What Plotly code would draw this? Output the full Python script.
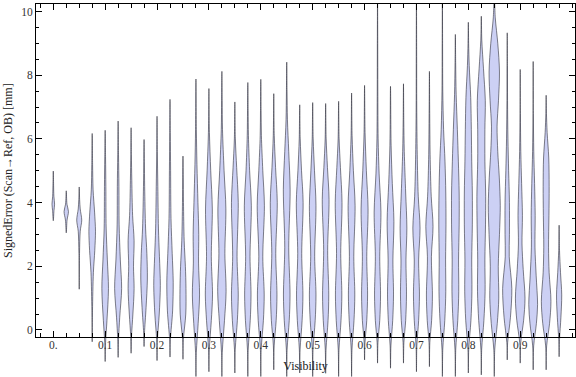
import plotly.graph_objects as go

# ---- data ----
positions = [0.0, 0.025, 0.05, 0.075, 0.1, 0.125, 0.15, 0.175, 0.2, 0.225,
             0.25, 0.275, 0.3, 0.325, 0.35, 0.375, 0.4, 0.425, 0.45, 0.475,
             0.5, 0.525, 0.55, 0.575, 0.6, 0.625, 0.65, 0.675, 0.7, 0.725,
             0.75, 0.775, 0.8, 0.825, 0.85, 0.875, 0.9, 0.925, 0.95, 0.975]

lows = [3.43, 3.05, 1.28, -0.37, -0.99, -0.86, -0.73, -0.52, -0.96, -0.85,
        -0.92, -1.46, -1.31, -1.46, -1.35, -1.46, -1.46, -1.25, -1.46, -1.35,
        -1.46, -1.36, -1.46, -1.46, -0.94, -1.04, -1.2, -1.04, -1.31, -1.15,
        -1.46, -1.46, -1.35, -1.41, -1.46, -0.94, -1.04, -1.25, -1.25, -0.84]

highs = [4.99, 4.37, 4.49, 6.17, 6.27, 6.56, 6.35, 5.98, 6.71, 7.24,
         5.46, 7.88, 7.58, 8.12, 7.16, 7.77, 7.87, 7.42, 8.41, 7.07,
         7.14, 7.11, 7.18, 7.44, 7.68, 10.6, 7.65, 7.73, 10.5, 8.12,
         10.5, 9.28, 9.66, 9.85, 10.6, 9.33, 8.18, 8.43, 7.37, 3.29]

# density profile knots: error level (mm) and relative density
density_y = [
    [3.75, 3.95, 4.2],
    [3.45, 3.72, 3.95],
    [2.4, 3.1, 3.45, 3.8, 4.1],
    [0.6, 1.8, 2.5, 3.1, 3.7, 4.4, 5.2],
    [-0.4, 0.3, 1.3, 2.2, 3.2, 4.5, 5.4],
    [-0.3, 0.4, 1.3, 2.2, 3.3, 4.5, 5.5],
    [-0.2, 0.5, 1.3, 2.0, 2.8, 3.6, 4.7, 5.5],
    [-0.1, 0.7, 1.6, 2.4, 3.2, 4.5, 5.3],
    [-0.3, 0.5, 1.4, 2.3, 3.2, 4.5, 5.6],
    [-0.3, 0.6, 1.5, 2.4, 3.5, 5.0, 6.2],
    [-0.3, 0.5, 1.3, 2.0, 2.8, 4.0, 4.8],
    [-0.7, 0.2, 1.1, 2.1, 3.0, 4.0, 5.2, 6.3],
    [-0.6, 0.3, 1.1, 2.3, 3.8, 5.0, 6.2],
    [-0.7, 0.3, 1.2, 2.4, 3.8, 5.0, 6.3, 7.2],
    [-0.6, 0.3, 1.1, 2.3, 4.0, 5.1, 6.0],
    [-0.6, 0.3, 1.1, 2.3, 3.9, 5.0, 6.1, 6.9],
    [-0.6, 0.3, 1.1, 2.3, 3.9, 5.0, 6.1, 6.9],
    [-0.5, 0.3, 1.1, 2.4, 4.0, 5.1, 6.1],
    [-0.6, 0.3, 1.1, 2.6, 4.4, 5.6, 6.6, 7.5],
    [-0.6, 0.3, 1.1, 2.4, 4.0, 5.0, 6.0],
    [-0.6, 0.3, 1.1, 2.3, 3.9, 5.0, 6.0],
    [-0.6, 0.3, 1.1, 2.5, 4.1, 5.1, 6.0],
    [-0.6, 0.3, 1.1, 2.4, 4.0, 5.1, 6.0],
    [-0.6, 0.3, 1.1, 2.3, 3.9, 5.0, 6.1],
    [-0.4, 0.3, 1.1, 2.3, 3.8, 5.0, 6.2],
    [-0.4, 0.3, 1.1, 2.3, 3.7, 4.9, 6.0, 7.5, 9.0],
    [-0.5, 0.3, 1.1, 2.2, 3.4, 4.6, 5.8],
    [-0.4, 0.3, 1.1, 2.2, 3.2, 4.3, 5.6, 6.6],
    [-0.5, 0.3, 1.1, 2.2, 3.2, 4.2, 5.5, 7.0, 8.8],
    [-0.4, 0.3, 1.1, 2.3, 3.25, 4.2, 5.5, 6.8],
    [-0.6, 0.3, 1.2, 2.2, 3.3, 4.3, 5.3, 6.3, 7.5, 9.0],
    [-0.6, 0.3, 1.2, 2.2, 3.3, 4.3, 5.3, 6.3, 7.4, 8.4],
    [-0.6, 0.3, 1.2, 2.2, 3.3, 4.3, 5.3, 6.3, 7.3, 8.3, 9.0],
    [-0.6, 0.3, 1.2, 2.2, 3.3, 4.2, 5.3, 6.3, 7.2, 8.2, 9.1],
    [-0.6, 0.2, 1.0, 2.0, 3.0, 3.9, 4.8, 5.6, 6.4, 7.2, 8.1, 9.0, 9.8],
    [-0.4, 0.4, 1.3, 2.3, 3.0, 4.0, 5.0, 6.0, 7.2, 8.3],
    [-0.4, 0.3, 1.0, 1.9, 2.7, 3.6, 4.6, 5.6, 6.8],
    [-0.5, 0.2, 0.8, 1.7, 2.6, 3.6, 4.6, 5.6, 6.8],
    [-0.5, 0.2, 0.9, 1.8, 2.6, 3.6, 4.5, 5.4, 6.2, 6.8],
    [-0.3, 0.4, 1.1, 1.8, 2.5],
]

density_w = [
    [0.7, 1.3, 0.6],
    [0.8, 2.2, 0.7],
    [0.3, 1.0, 2.5, 1.0, 0.4],
    [0.3, 1.2, 2.6, 3.3, 2.4, 0.9, 0.4],
    [0.4, 1.8, 3.3, 2.2, 1.0, 0.7, 0.4],
    [0.4, 1.6, 3.5, 2.2, 1.0, 0.8, 0.4],
    [0.4, 1.8, 3.0, 2.4, 3.0, 1.5, 0.7, 0.3],
    [0.4, 2.0, 3.3, 2.8, 1.5, 0.6, 0.3],
    [0.4, 2.2, 3.3, 2.4, 1.4, 0.8, 0.3],
    [0.4, 2.6, 3.2, 2.2, 1.0, 0.6, 0.3],
    [0.4, 2.8, 3.0, 2.4, 1.2, 0.5, 0.3],
    [0.4, 2.2, 3.6, 2.6, 2.8, 2.0, 1.0, 0.4],
    [0.4, 2.4, 3.6, 2.4, 3.4, 1.8, 0.5],
    [0.4, 2.6, 4.2, 3.0, 4.0, 2.2, 0.6, 0.3],
    [0.4, 2.5, 3.4, 2.2, 3.4, 1.8, 0.5],
    [0.4, 2.4, 3.2, 2.2, 3.5, 1.8, 0.6, 0.3],
    [0.4, 2.6, 3.4, 2.0, 3.6, 2.0, 0.6, 0.3],
    [0.4, 2.4, 3.2, 2.0, 3.5, 1.8, 0.5],
    [0.4, 2.5, 3.3, 2.0, 3.4, 2.0, 0.7, 0.3],
    [0.4, 2.4, 3.2, 2.0, 3.4, 1.8, 0.5],
    [0.4, 2.5, 3.3, 2.0, 3.3, 1.8, 0.5],
    [0.4, 2.4, 3.1, 2.0, 3.4, 1.8, 0.5],
    [0.4, 2.4, 3.2, 2.1, 3.4, 1.8, 0.5],
    [0.4, 2.4, 3.2, 2.2, 3.5, 1.8, 0.5],
    [0.4, 2.2, 3.0, 2.2, 3.5, 1.8, 0.5],
    [0.4, 2.2, 3.0, 2.2, 3.4, 1.6, 0.6, 0.3, 0.2],
    [0.4, 2.2, 3.0, 2.4, 3.4, 1.8, 0.6],
    [0.4, 2.2, 3.0, 2.5, 3.4, 2.2, 0.8, 0.3],
    [0.4, 2.2, 3.0, 2.2, 3.6, 1.8, 0.8, 0.3, 0.2],
    [0.4, 2.2, 3.0, 2.0, 3.6, 1.8, 0.7, 0.3],
    [0.4, 2.4, 3.4, 3.2, 3.6, 3.4, 2.6, 1.2, 0.4, 0.2],
    [0.4, 2.4, 3.4, 3.2, 3.8, 3.8, 3.0, 2.0, 0.8, 0.3],
    [0.4, 2.6, 3.6, 3.4, 4.0, 4.0, 3.4, 3.0, 2.4, 0.9, 0.3],
    [0.4, 2.6, 3.8, 3.6, 4.2, 4.4, 3.6, 3.6, 4.0, 2.2, 0.5],
    [0.5, 3.0, 4.5, 4.0, 5.2, 6.0, 5.0, 3.5, 2.8, 4.2, 5.2, 3.5, 1.0],
    [0.4, 3.2, 4.6, 2.0, 2.2, 2.2, 1.4, 0.7, 0.3, 0.2],
    [0.5, 3.4, 4.8, 3.0, 1.8, 2.2, 1.4, 0.6, 0.2],
    [0.5, 3.2, 4.4, 3.0, 1.8, 2.0, 1.4, 0.6, 0.2],
    [0.5, 3.4, 4.8, 3.0, 2.4, 2.8, 3.0, 2.6, 1.0, 0.3],
    [0.4, 1.8, 2.6, 1.4, 0.4],
]

x_tick_vals = [0.0, 0.1, 0.2, 0.3, 0.4, 0.5, 0.6, 0.7, 0.8, 0.9]
x_tick_text = ["0.", "0.1", "0.2", "0.3", "0.4", "0.5", "0.6", "0.7", "0.8", "0.9"]
y_tick_vals = [0, 2, 4, 6, 8, 10]

# ---- styling ----
WIDTH_SCALE = 1.0 / 518.8          # density unit -> x-axis units
FILL = "rgb(204,208,244)"
EDGE = "rgba(30,30,40,0.55)"
FONT = "Liberation Serif"

fig = go.Figure()

for pos, lo, hi, ys, ws in zip(positions, lows, highs, density_y, density_w):
    right_y = [lo] + ys + [hi]
    right_w = [0.0] + ws + [0.0]
    left_y = list(reversed(ys)) + [lo]
    left_w = list(reversed(ws)) + [0.0]
    px = [pos + w * WIDTH_SCALE for w in right_w] + [pos - w * WIDTH_SCALE for w in left_w]
    py = right_y + left_y
    fig.add_trace(go.Scatter(
        x=px, y=py, mode="lines", fill="toself", fillcolor=FILL,
        line=dict(color=EDGE, width=1, shape="spline", smoothing=0.9),
        hoverinfo="skip", showlegend=False, xaxis="x", yaxis="y"))

# empty trace for the frame subplot
fig.add_trace(go.Scatter(x=[], y=[], xaxis="x2", yaxis="y2", showlegend=False))

X_RANGE = [-0.0333, 1.0056]
tickfont = dict(family=FONT, size=11.5, color="#333333")

fig.update_layout(
    width=576, height=377,
    margin=dict(l=36, r=1, t=4, b=0),
    paper_bgcolor="white", plot_bgcolor="rgba(0,0,0,0)",
    xaxis=dict(range=X_RANGE, domain=[0, 1], visible=False, fixedrange=True,
               automargin=False),
    yaxis=dict(range=[-1.476, 10.235], domain=[0, 1], visible=False, fixedrange=True,
               automargin=False),
    xaxis2=dict(range=X_RANGE, domain=[0, 1], anchor="y2", automargin=False,
                showline=True, linecolor="black", linewidth=1, mirror="ticks",
                ticks="inside", ticklen=6, tickcolor="black", tickwidth=1,
                tickvals=x_tick_vals, ticktext=x_tick_text, tickfont=tickfont,
                ticklabelstandoff=-3,
                minor=dict(dtick=0.025, tick0=0, ticks="inside", ticklen=4,
                           tickcolor="black", showgrid=False),
                showgrid=False, zeroline=False,
                title=dict(text="Visibility", font=dict(family=FONT, size=12, color="#222222"),
                           standoff=11)),
    yaxis2=dict(range=[-0.23, 10.235], domain=[0.1064, 1], anchor="x2", automargin=False,
                showline=True, linecolor="black", linewidth=1, mirror="ticks",
                ticks="inside", ticklen=6, tickcolor="black", tickwidth=1,
                tickvals=y_tick_vals, tickfont=tickfont,
                minor=dict(dtick=0.5, tick0=0, ticks="inside", ticklen=3,
                           tickcolor="black", showgrid=False),
                showgrid=False, zeroline=False,
                title=dict(text="SignedError (Scan→Ref, OB) [mm]",
                           font=dict(family=FONT, size=12, color="#222222"),
                           standoff=6)),
)

fig.write_html("out.html", config={"displayModeBar": False},
               post_script="document.body.style.margin='0';document.body.style.padding='0';")
